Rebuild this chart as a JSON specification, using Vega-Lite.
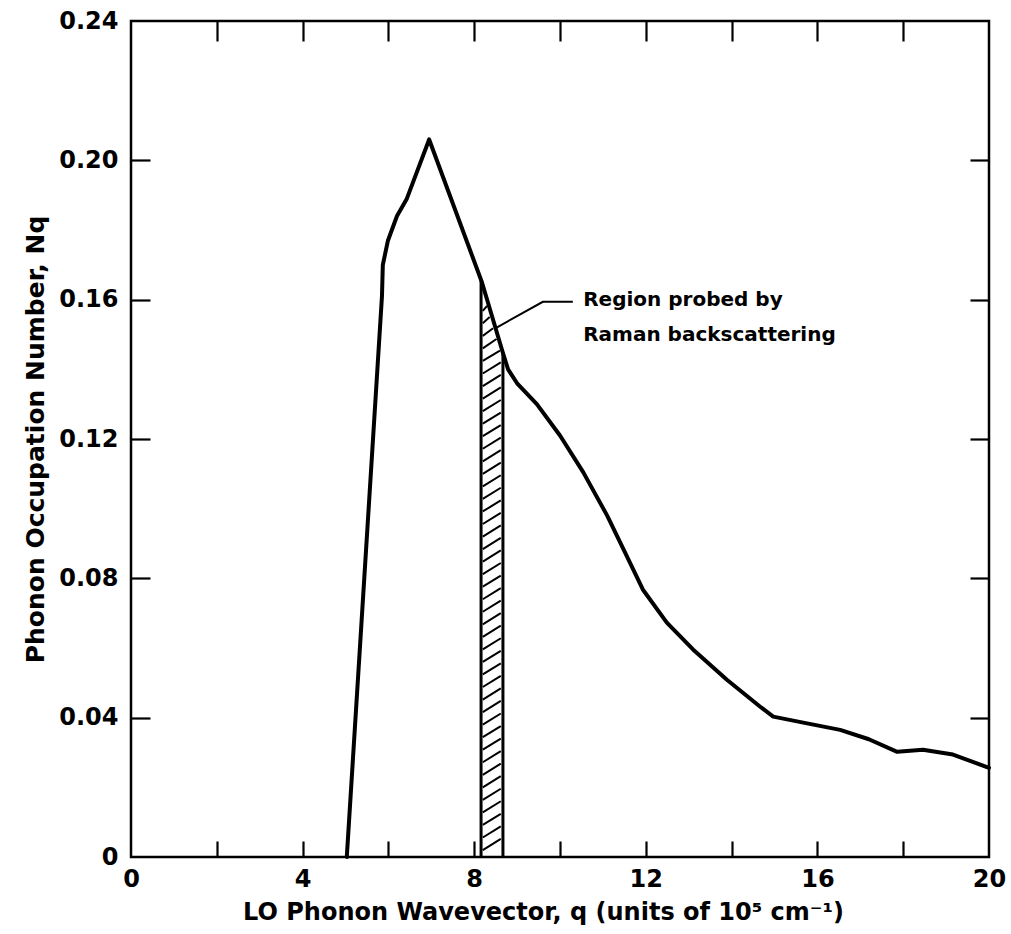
{
  "$schema": "https://vega.github.io/schema/vega-lite/v6.json",
  "width": 858,
  "height": 836,
  "autosize": "none",
  "padding": {"left": 131, "top": 21, "right": 22, "bottom": 77},
  "background": "white",
  "config": {
    "view": {"stroke": "black", "strokeWidth": 2.5},
    "font": "DejaVu Sans",
    "axis": {"labelFont": "DejaVu Sans", "titleFont": "DejaVu Sans", "labelColor": "black", "titleColor": "black", "tickColor": "black", "domain": false, "grid": false}
  },
  "datasets": {
    "curve": [
      {"q": 5.03, "n": 0}, {"q": 5.85, "n": 0.161}, {"q": 5.87, "n": 0.17}, {"q": 5.99, "n": 0.177},
      {"q": 6.2, "n": 0.184}, {"q": 6.43, "n": 0.189}, {"q": 6.95, "n": 0.206}, {"q": 8.18, "n": 0.165},
      {"q": 8.67, "n": 0.1447}, {"q": 8.79, "n": 0.14}, {"q": 9.0, "n": 0.136}, {"q": 9.46, "n": 0.13},
      {"q": 10.0, "n": 0.121}, {"q": 10.54, "n": 0.1105}, {"q": 11.1, "n": 0.098}, {"q": 11.56, "n": 0.0863},
      {"q": 11.93, "n": 0.0768}, {"q": 12.49, "n": 0.0673}, {"q": 13.1, "n": 0.0596}, {"q": 13.89, "n": 0.0509},
      {"q": 14.66, "n": 0.0432}, {"q": 14.97, "n": 0.0403}, {"q": 15.7, "n": 0.0385}, {"q": 16.53, "n": 0.0365},
      {"q": 17.2, "n": 0.0338}, {"q": 17.86, "n": 0.0302}, {"q": 18.46, "n": 0.0308}, {"q": 19.16, "n": 0.0294},
      {"q": 20.0, "n": 0.0256}
    ],
    "edges": [
      {"q": 8.16, "lo": 0, "hi": 0.1655},
      {"q": 8.67, "lo": 0, "hi": 0.1447}
    ],
    "hatch": [
      {"x1": 8.2, "y1": 0.002, "x2": 8.62, "y2": 0.0052},
      {"x1": 8.2, "y1": 0.0056, "x2": 8.62, "y2": 0.0088},
      {"x1": 8.2, "y1": 0.0092, "x2": 8.62, "y2": 0.0124},
      {"x1": 8.2, "y1": 0.0128, "x2": 8.62, "y2": 0.016},
      {"x1": 8.2, "y1": 0.0164, "x2": 8.62, "y2": 0.0196},
      {"x1": 8.2, "y1": 0.02, "x2": 8.62, "y2": 0.0232},
      {"x1": 8.2, "y1": 0.0236, "x2": 8.62, "y2": 0.0268},
      {"x1": 8.2, "y1": 0.0272, "x2": 8.62, "y2": 0.0304},
      {"x1": 8.2, "y1": 0.0308, "x2": 8.62, "y2": 0.034},
      {"x1": 8.2, "y1": 0.0344, "x2": 8.62, "y2": 0.0376},
      {"x1": 8.2, "y1": 0.038, "x2": 8.62, "y2": 0.0412},
      {"x1": 8.2, "y1": 0.0416, "x2": 8.62, "y2": 0.0448},
      {"x1": 8.2, "y1": 0.0452, "x2": 8.62, "y2": 0.0484},
      {"x1": 8.2, "y1": 0.0488, "x2": 8.62, "y2": 0.052},
      {"x1": 8.2, "y1": 0.0524, "x2": 8.62, "y2": 0.0556},
      {"x1": 8.2, "y1": 0.056, "x2": 8.62, "y2": 0.0592},
      {"x1": 8.2, "y1": 0.0596, "x2": 8.62, "y2": 0.0628},
      {"x1": 8.2, "y1": 0.0632, "x2": 8.62, "y2": 0.0664},
      {"x1": 8.2, "y1": 0.0668, "x2": 8.62, "y2": 0.07},
      {"x1": 8.2, "y1": 0.0704, "x2": 8.62, "y2": 0.0736},
      {"x1": 8.2, "y1": 0.074, "x2": 8.62, "y2": 0.0772},
      {"x1": 8.2, "y1": 0.0776, "x2": 8.62, "y2": 0.0808},
      {"x1": 8.2, "y1": 0.0812, "x2": 8.62, "y2": 0.0844},
      {"x1": 8.2, "y1": 0.0848, "x2": 8.62, "y2": 0.088},
      {"x1": 8.2, "y1": 0.0884, "x2": 8.62, "y2": 0.0916},
      {"x1": 8.2, "y1": 0.092, "x2": 8.62, "y2": 0.0952},
      {"x1": 8.2, "y1": 0.0956, "x2": 8.62, "y2": 0.0988},
      {"x1": 8.2, "y1": 0.0992, "x2": 8.62, "y2": 0.1024},
      {"x1": 8.2, "y1": 0.1028, "x2": 8.62, "y2": 0.106},
      {"x1": 8.2, "y1": 0.1064, "x2": 8.62, "y2": 0.1096},
      {"x1": 8.2, "y1": 0.11, "x2": 8.62, "y2": 0.1132},
      {"x1": 8.2, "y1": 0.1136, "x2": 8.62, "y2": 0.1168},
      {"x1": 8.2, "y1": 0.1172, "x2": 8.62, "y2": 0.1204},
      {"x1": 8.2, "y1": 0.1208, "x2": 8.62, "y2": 0.124},
      {"x1": 8.2, "y1": 0.1244, "x2": 8.62, "y2": 0.1276},
      {"x1": 8.2, "y1": 0.128, "x2": 8.62, "y2": 0.1312},
      {"x1": 8.2, "y1": 0.1316, "x2": 8.62, "y2": 0.1348},
      {"x1": 8.2, "y1": 0.1352, "x2": 8.62, "y2": 0.1384},
      {"x1": 8.2, "y1": 0.1388, "x2": 8.62, "y2": 0.142},
      {"x1": 8.2, "y1": 0.1424, "x2": 8.6, "y2": 0.1454},
      {"x1": 8.2, "y1": 0.146, "x2": 8.52, "y2": 0.1487},
      {"x1": 8.2, "y1": 0.1496, "x2": 8.44, "y2": 0.1518},
      {"x1": 8.2, "y1": 0.1532, "x2": 8.36, "y2": 0.155},
      {"x1": 8.2, "y1": 0.1568, "x2": 8.3, "y2": 0.1582}
    ],
    "leader": [
      {"q": 8.48, "n": 0.1517}, {"q": 9.6, "n": 0.1594}, {"q": 10.3, "n": 0.1594}
    ],
    "notes": [
      {"q": 10.54, "n": 0.1598, "t": "Region probed by"},
      {"q": 10.54, "n": 0.1498, "t": "Raman backscattering"}
    ]
  },
  "resolve": {"axis": {"x": "independent", "y": "independent"}},
  "layer": [
    {
      "data": {"name": "hatch"},
      "mark": {"type": "rule", "color": "black", "strokeWidth": 2},
      "encoding": {
        "x": {"field": "x1", "type": "quantitative", "scale": {"domain": [0, 20], "nice": false},
              "axis": {"orient": "bottom", "values": [2, 4, 6, 8, 10, 12, 14, 16, 18], "labels": false, "tickSize": -16, "tickWidth": 2.2, "title": null}},
        "y": {"field": "y1", "type": "quantitative", "scale": {"domain": [0, 0.24], "nice": false},
              "axis": {"orient": "left", "values": [0.04, 0.08, 0.12, 0.16, 0.2], "labels": false, "tickSize": -19, "tickWidth": 2.2, "title": null}},
        "x2": {"field": "x2"},
        "y2": {"field": "y2"}
      }
    },
    {
      "data": {"name": "edges"},
      "mark": {"type": "rule", "color": "black", "strokeWidth": 3},
      "encoding": {
        "x": {"field": "q", "type": "quantitative",
              "axis": {"orient": "top", "values": [2, 4, 6, 8, 10, 12, 14, 16, 18], "labels": false, "tickSize": -20, "tickWidth": 2.2, "title": null}},
        "y": {"field": "lo", "type": "quantitative",
              "axis": {"orient": "right", "values": [0.04, 0.08, 0.12, 0.16, 0.2], "labels": false, "tickSize": -19, "tickWidth": 2.2, "title": null}},
        "y2": {"field": "hi"}
      }
    },
    {
      "data": {"name": "curve"},
      "mark": {"type": "line", "color": "black", "strokeWidth": 4, "strokeJoin": "round", "strokeCap": "round"},
      "encoding": {
        "x": {"field": "q", "type": "quantitative",
              "axis": {"orient": "bottom", "values": [0, 4, 8, 12, 16, 20], "ticks": false, "labelPadding": 10, "labelFontSize": 24, "labelFontWeight": "bold", "labelFlush": false,
                       "title": "LO Phonon Wavevector, q (units of 10⁵ cm⁻¹)", "titleFontSize": 24, "titleFontWeight": "bold", "titlePadding": 9, "titleX": 412}},
        "y": {"field": "n", "type": "quantitative",
              "axis": {"orient": "left", "values": [0, 0.04, 0.08, 0.12, 0.16, 0.2, 0.24], "ticks": false, "labelPadding": 13, "labelFontSize": 24, "labelFontWeight": "bold", "labelFlush": false,
                       "labelExpr": "datum.value == 0 ? '0' : format(datum.value, '.2f')",
                       "title": "Phonon Occupation Number,  Nq", "titleFontSize": 25, "titleFontWeight": "bold", "titlePadding": 10}}
      }
    },
    {
      "data": {"name": "leader"},
      "mark": {"type": "line", "color": "black", "strokeWidth": 2},
      "encoding": {
        "x": {"field": "q", "type": "quantitative", "axis": null},
        "y": {"field": "n", "type": "quantitative", "axis": null}
      }
    },
    {
      "data": {"name": "notes"},
      "mark": {"type": "text", "align": "left", "baseline": "middle", "fontSize": 20, "fontWeight": "bold", "color": "black"},
      "encoding": {
        "x": {"field": "q", "type": "quantitative", "axis": null},
        "y": {"field": "n", "type": "quantitative", "axis": null},
        "text": {"field": "t"}
      }
    }
  ]
}
